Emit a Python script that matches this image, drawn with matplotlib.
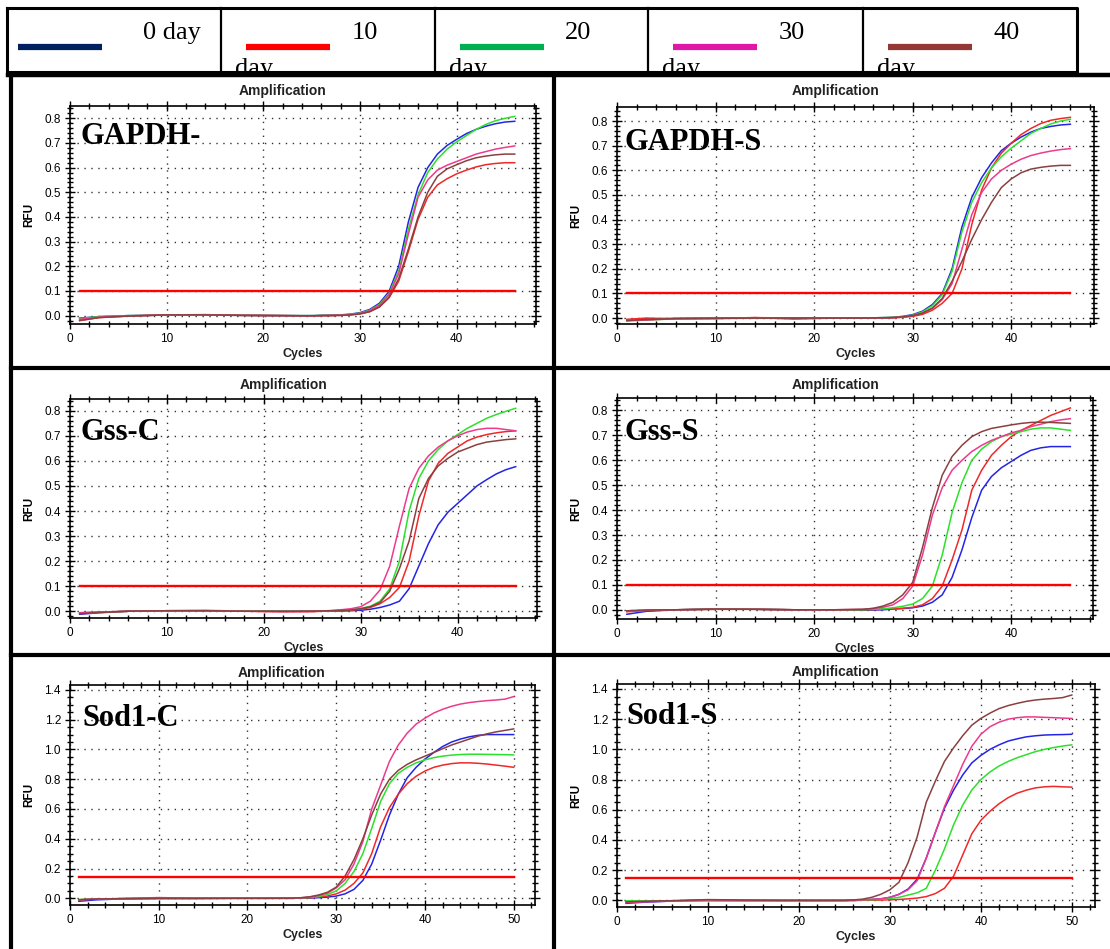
import numpy as np
import matplotlib.pyplot as plt
from matplotlib.ticker import MultipleLocator, FormatStrFormatter

W, H = 1110, 949

# cycle numbers the curves were read at
cycles46 = [1, 3, 6, 10, 14, 18, 22, 25, 26, 27, 28, 29, 30, 31, 32, 33, 34, 35, 36,
            37, 38, 39, 40, 41, 42, 43, 44, 45, 46]
cycles50 = [1, 3, 6, 10, 14, 18, 22, 25, 26, 27, 28, 29, 30, 31, 32, 33, 34, 35, 36,
            37, 38, 39, 40, 41, 42, 43, 44, 45, 46, 47, 48, 49, 50]

legend_labels = ["0 day", "10 day", "20 day", "30 day", "40 day"]
legend_colors = ["#002060", "#FF0000", "#00B050", "#E018A8", "#953735"]
curve_colors = ["#2424E8", "#F02828", "#2CE02C", "#EE3A8C", "#8A4040"]

# GAPDH- (control)
gapdh_c_0 = [-0.01, -0.004, 0.0, 0.002, 0.002, 0.001, 0.0, 0.0, 0.001, 0.002, 0.003, 0.006, 0.012,
             0.025, 0.05, 0.098, 0.2, 0.38, 0.52, 0.6, 0.655, 0.69, 0.715, 0.738, 0.755, 0.768, 0.778,
             0.785, 0.788]
gapdh_c_10 = [-0.02, -0.008, -0.002, 0.003, 0.004, 0.001, 0.0, -0.001, 0.0, 0.0, 0.001, 0.003, 0.007,
              0.016, 0.035, 0.072, 0.14, 0.26, 0.39, 0.48, 0.53, 0.555, 0.575, 0.59, 0.603, 0.612,
              0.617, 0.62, 0.62]
gapdh_c_20 = [-0.012, -0.004, 0.0, 0.002, 0.002, 0.001, 0.0, 0.0, 0.001, 0.001, 0.002, 0.005, 0.01,
              0.022, 0.045, 0.09, 0.18, 0.35, 0.49, 0.58, 0.635, 0.675, 0.705, 0.73, 0.755, 0.775,
              0.79, 0.8, 0.808]
gapdh_c_30 = [-0.015, -0.006, -0.001, 0.003, 0.003, 0.001, 0.0, -0.001, 0.0, 0.001, 0.002, 0.004,
              0.009, 0.02, 0.042, 0.085, 0.17, 0.33, 0.48, 0.55, 0.59, 0.61, 0.625, 0.64, 0.655,
              0.665, 0.675, 0.682, 0.688]
gapdh_c_40 = [-0.02, -0.008, -0.002, 0.003, 0.003, 0.001, 0.0, -0.001, 0.0, 0.0, 0.001, 0.003, 0.007,
              0.016, 0.035, 0.075, 0.15, 0.27, 0.40, 0.50, 0.565, 0.595, 0.612, 0.628, 0.64, 0.647,
              0.652, 0.655, 0.655]

# GAPDH-S
gapdh_s_0 = [-0.01, -0.004, -0.001, 0.0, 0.0, 0.0, 0.0, 0.0, 0.001, 0.002, 0.003, 0.007, 0.014,
             0.028, 0.055, 0.1, 0.2, 0.37, 0.49, 0.57, 0.63, 0.68, 0.71, 0.735, 0.755, 0.77, 0.778,
             0.784, 0.787]
gapdh_s_10 = [-0.005, 0.0, -0.003, -0.002, 0.002, -0.004, 0.0, 0.0, 0.0, 0.0, 0.001, 0.003, 0.007,
              0.015, 0.032, 0.06, 0.1, 0.2, 0.38, 0.52, 0.61, 0.67, 0.71, 0.745, 0.77, 0.79, 0.803,
              0.81, 0.815]
gapdh_s_20 = [-0.012, -0.008, -0.003, -0.002, -0.001, -0.001, 0.0, 0.0, 0.001, 0.002, 0.003, 0.006,
              0.012, 0.025, 0.05, 0.095, 0.19, 0.35, 0.47, 0.55, 0.61, 0.655, 0.69, 0.72, 0.75, 0.77,
              0.788, 0.8, 0.807]
gapdh_s_30 = [-0.008, -0.008, -0.002, -0.001, 0.002, 0.0, 0.0, 0.0, 0.001, 0.001, 0.002, 0.005, 0.01,
              0.02, 0.04, 0.075, 0.14, 0.28, 0.42, 0.51, 0.565, 0.6, 0.625, 0.645, 0.66, 0.67,
              0.678, 0.684, 0.688]
gapdh_s_40 = [-0.01, -0.006, -0.002, -0.001, 0.0, 0.0, 0.0, 0.0, 0.001, 0.001, 0.002, 0.005, 0.01,
              0.02, 0.04, 0.08, 0.15, 0.23, 0.32, 0.40, 0.47, 0.53, 0.565, 0.59, 0.605, 0.612,
              0.617, 0.62, 0.62]

# Gss-C
gss_c_0 = [-0.012, -0.006, 0.0, 0.002, 0.003, 0.001, 0.0, 0.0, 0.0, 0.0, 0.001, 0.002, 0.004, 0.008,
           0.015, 0.025, 0.04, 0.09, 0.18, 0.27, 0.345, 0.395, 0.43, 0.465, 0.5, 0.525, 0.548,
           0.565, 0.577]
gss_c_10 = [-0.006, -0.004, 0.0, 0.002, 0.002, 0.0, -0.002, -0.002, 0.0, 0.001, 0.002, 0.004, 0.008,
            0.015, 0.03, 0.055, 0.095, 0.2, 0.38, 0.52, 0.59, 0.63, 0.655, 0.68, 0.695, 0.705,
            0.712, 0.717, 0.72]
gss_c_20 = [-0.008, -0.004, 0.0, 0.002, 0.002, 0.001, 0.0, 0.0, 0.001, 0.002, 0.003, 0.006, 0.011,
            0.02, 0.04, 0.09, 0.2, 0.4, 0.53, 0.6, 0.645, 0.68, 0.705, 0.73, 0.75, 0.77, 0.785,
            0.798, 0.81]
gss_c_30 = [-0.006, -0.003, 0.0, 0.002, 0.002, 0.0, -0.002, 0.0, 0.001, 0.003, 0.006, 0.01, 0.018,
            0.04, 0.085, 0.18, 0.34, 0.49, 0.57, 0.62, 0.655, 0.68, 0.70, 0.715, 0.725, 0.73,
            0.73, 0.725, 0.72]
gss_c_40 = [-0.01, -0.005, 0.0, 0.002, 0.002, 0.0, 0.0, 0.0, 0.001, 0.002, 0.003, 0.005, 0.01,
            0.018, 0.035, 0.08, 0.17, 0.28, 0.45, 0.53, 0.58, 0.61, 0.635, 0.65, 0.665, 0.675,
            0.68, 0.685, 0.688]

# Gss-S
gss_s_0 = [-0.018, -0.006, 0.0, 0.003, 0.002, 0.0, 0.0, -0.002, -0.001, 0.0, 0.003, 0.005, 0.008,
           0.015, 0.03, 0.06, 0.13, 0.24, 0.37, 0.48, 0.535, 0.57, 0.595, 0.62, 0.64, 0.65, 0.655,
           0.655, 0.655]
gss_s_10 = [-0.008, -0.003, 0.0, 0.002, 0.002, 0.0, 0.0, 0.0, 0.001, 0.002, 0.004, 0.006, 0.01,
            0.02, 0.045, 0.095, 0.2, 0.32, 0.48, 0.56, 0.62, 0.66, 0.695, 0.72, 0.74, 0.76, 0.78,
            0.795, 0.81]
gss_s_20 = [-0.004, -0.002, 0.0, 0.002, 0.002, 0.0, 0.0, 0.0, 0.002, 0.004, 0.008, 0.014, 0.023,
            0.045, 0.095, 0.22, 0.39, 0.51, 0.6, 0.645, 0.675, 0.695, 0.705, 0.715, 0.725, 0.73,
            0.73, 0.725, 0.72]
gss_s_30 = [-0.005, -0.002, 0.0, 0.002, 0.002, 0.0, 0.0, 0.002, 0.005, 0.01, 0.02, 0.045, 0.095,
            0.22, 0.38, 0.49, 0.56, 0.6, 0.635, 0.66, 0.68, 0.695, 0.71, 0.72, 0.735, 0.745, 0.755,
            0.762, 0.767]
gss_s_40 = [-0.004, -0.001, 0.0, 0.003, 0.002, 0.0, 0.0, 0.002, 0.006, 0.015, 0.03, 0.06, 0.11,
            0.25, 0.41, 0.54, 0.615, 0.66, 0.695, 0.715, 0.728, 0.735, 0.742, 0.748, 0.752, 0.753,
            0.752, 0.75, 0.748]

# Sod1-C
sod_c_0 = [-0.02, -0.01, -0.004, -0.002, -0.002, 0.0, 0.0, 0.0, 0.001, 0.002, 0.004, 0.008, 0.015,
           0.03, 0.06, 0.12, 0.23, 0.39, 0.56, 0.70, 0.81, 0.88, 0.935, 0.98, 1.02, 1.05, 1.07,
           1.085, 1.095, 1.1, 1.1, 1.1, 1.1]
sod_c_10 = [-0.01, -0.005, -0.002, 0.0, 0.0, 0.0, 0.0, 0.0, 0.002, 0.004, 0.008, 0.015, 0.03,
            0.055, 0.1, 0.17, 0.3, 0.48, 0.61, 0.7, 0.77, 0.82, 0.855, 0.88, 0.895, 0.905, 0.91,
            0.91, 0.907, 0.902, 0.895, 0.888, 0.88]
sod_c_20 = [-0.008, -0.004, -0.002, 0.0, 0.0, 0.0, 0.0, 0.0, 0.003, 0.006, 0.012, 0.025, 0.05, 0.1,
            0.18, 0.3, 0.47, 0.65, 0.77, 0.84, 0.88, 0.91, 0.93, 0.945, 0.955, 0.962, 0.966, 0.968,
            0.968, 0.967, 0.966, 0.965, 0.963]
sod_c_30 = [-0.01, -0.005, -0.002, 0.005, 0.0, 0.0, 0.0, 0.0, 0.003, 0.008, 0.018, 0.035, 0.07,
            0.125, 0.23, 0.38, 0.6, 0.76, 0.92, 1.03, 1.11, 1.17, 1.21, 1.245, 1.27, 1.29, 1.305,
            1.315, 1.322, 1.328, 1.332, 1.338, 1.355]
sod_c_40 = [-0.01, -0.005, -0.002, 0.0, 0.0, 0.0, 0.0, 0.001, 0.004, 0.01, 0.022, 0.04, 0.075, 0.15,
            0.26, 0.4, 0.56, 0.7, 0.8, 0.86, 0.9, 0.93, 0.955, 0.98, 1.005, 1.03, 1.05, 1.07, 1.09,
            1.105, 1.118, 1.128, 1.138]

# Sod1-S
sod_s_0 = [-0.02, -0.012, -0.005, 0.0, -0.001, 0.0, 0.0, 0.0, 0.002, 0.003, 0.006, 0.01, 0.02,
           0.04, 0.075, 0.14, 0.28, 0.45, 0.61, 0.73, 0.83, 0.91, 0.96, 1.0, 1.03, 1.055, 1.07,
           1.083, 1.09, 1.095, 1.097, 1.098, 1.1]
sod_s_10 = [-0.01, -0.006, -0.003, 0.002, 0.0, -0.002, -0.002, -0.002, -0.001, 0.001, 0.001, 0.002,
            0.004, 0.006, 0.01, 0.015, 0.025, 0.045, 0.08, 0.16, 0.3, 0.44, 0.53, 0.59, 0.64, 0.68,
            0.71, 0.73, 0.745, 0.752, 0.755, 0.752, 0.75]
sod_s_20 = [-0.003, -0.003, -0.004, -0.004, -0.005, -0.004, -0.004, -0.003, -0.002, 0.002, 0.004,
            0.007, 0.012, 0.02, 0.035, 0.05, 0.08, 0.2, 0.34, 0.5, 0.63, 0.73, 0.8, 0.85, 0.89, 0.92,
            0.945, 0.965, 0.985, 1.0, 1.012, 1.022, 1.03]
sod_s_30 = [-0.015, -0.01, -0.004, 0.003, 0.0, 0.0, 0.0, 0.0, 0.001, 0.003, 0.006, 0.01, 0.02, 0.04,
            0.07, 0.13, 0.28, 0.45, 0.62, 0.76, 0.9, 1.02, 1.1, 1.15, 1.18, 1.2, 1.21, 1.215, 1.215,
            1.212, 1.21, 1.207, 1.205]
sod_s_40 = [-0.01, -0.006, -0.002, 0.005, 0.002, 0.0, 0.0, 0.0, 0.003, 0.008, 0.02, 0.04, 0.07, 0.12,
            0.25, 0.42, 0.65, 0.79, 0.92, 1.01, 1.09, 1.16, 1.205, 1.24, 1.27, 1.29, 1.305, 1.318,
            1.327, 1.333, 1.337, 1.343, 1.36]

panel_names = ["GAPDH-", "GAPDH-S", "Gss-C", "Gss-S", "Sod1-C", "Sod1-S"]
thresholds = [0.1, 0.103, 0.1, 0.1, 0.145, 0.145]

fig = plt.figure(figsize=(W / 100, H / 100), dpi=100)
fig.patch.set_facecolor("white")


def px_axes(l, r, t, b):
    return fig.add_axes([l / W, 1 - b / H, (r - l) / W, (b - t) / H])


# pixel layout: (left, right, top, bottom) of each plot box, x max, y range
panels = [
    ((70, 536, 106, 324), cycles46, [gapdh_c_0, gapdh_c_10, gapdh_c_20, gapdh_c_30, gapdh_c_40],
     48.2, (-0.034, 0.85), (283, 91), (80, 137)),
    ((617, 1094, 107, 324), cycles46, [gapdh_s_0, gapdh_s_10, gapdh_s_20, gapdh_s_30, gapdh_s_40],
     48.4, (-0.024, 0.857), (836, 91), (625, 142)),
    ((70, 537, 399, 618), cycles46, [gss_c_0, gss_c_10, gss_c_20, gss_c_30, gss_c_40],
     48.2, (-0.027, 0.847), (284, 385), (80, 433)),
    ((617, 1093, 398, 619), cycles46, [gss_s_0, gss_s_10, gss_s_20, gss_s_30, gss_s_40],
     48.3, (-0.037, 0.85), (836, 385), (625, 432)),
    ((70, 535, 685, 905), cycles50, [sod_c_0, sod_c_10, sod_c_20, sod_c_30, sod_c_40],
     52.4, (-0.045, 1.433), (282, 673), (82, 718)),
    ((617, 1095, 684, 907), cycles50, [sod_s_0, sod_s_10, sod_s_20, sod_s_30, sod_s_40],
     52.55, (-0.044, 1.433), (836, 672), (626, 716)),
]

sans = "Liberation Sans"
serif = "Liberation Serif"

for i, (rect, cyc, series, xmax, ylim, title_xy, name_xy) in enumerate(panels):
    ax = px_axes(*rect)
    for vals, col in zip(series, curve_colors):
        ax.plot(cyc, vals, color=col, lw=1.1, zorder=3)
    ax.plot([cyc[0], cyc[-1]], [thresholds[i], thresholds[i]], color="#FF0000", lw=1.7, zorder=4)
    ax.set_xlim(0, xmax)
    ax.set_ylim(*ylim)
    ax.xaxis.set_major_locator(MultipleLocator(10))
    ax.xaxis.set_minor_locator(MultipleLocator(2))
    if i < 4:
        ax.yaxis.set_major_locator(MultipleLocator(0.1))
        ax.yaxis.set_minor_locator(MultipleLocator(0.02))
    else:
        ax.yaxis.set_major_locator(MultipleLocator(0.2))
        ax.yaxis.set_minor_locator(MultipleLocator(0.05))
    ax.yaxis.set_major_formatter(FormatStrFormatter("%.1f"))
    ax.grid(which="major", color="#333333", ls=(0, (1, 4)), lw=1.0)
    ax.tick_params(which="both", direction="inout", top=True, right=True, width=1.0,
                   labelsize=8.5, pad=3)
    ax.tick_params(which="major", length=7)
    ax.tick_params(which="minor", length=4)
    for lab in ax.get_xticklabels() + ax.get_yticklabels():
        lab.set_fontfamily(sans)
    for sp in ax.spines.values():
        sp.set_linewidth(1.2)

    l, r, t, b = rect
    fig.text(title_xy[0] / W, 1 - title_xy[1] / H, "Amplification", ha="center", va="center",
             fontsize=10, fontweight="bold", family=sans, color="#222222")
    fig.text((l + r) / 2 / W, 1 - (b + 30) / H, "Cycles", ha="center", va="center",
             fontsize=9, fontweight="bold", family=sans, color="#222222")
    fig.text((l - 41) / W, 1 - (t + b) / 2 / H, "RFU", ha="center", va="center", rotation=90,
             fontsize=8.5, fontweight="bold", family=sans)
    fig.text(name_xy[0] / W, 1 - name_xy[1] / H, panel_names[i], ha="left", va="center",
             fontsize=22, fontweight="bold", family=serif, zorder=5)

# legend table at the top
ax_leg = px_axes(7, 1077, 8, 72)
ax_leg.set_xlim(7, 1077)
ax_leg.set_ylim(72, 8)
ax_leg.axis("off")
cell_left = [7, 221, 434.5, 648, 863]
for k, (lab, col) in enumerate(zip(legend_labels, legend_colors)):
    x0 = cell_left[k]
    if k == 0:
        ax_leg.text(201, 39, lab, ha="right", va="baseline", fontsize=19, family=serif,
                    clip_on=True)
        ax_leg.plot([18, 102], [47, 47], color=col, lw=4.5, solid_capstyle="butt")
    else:
        num, word = lab.split(" ")
        ax_leg.text(x0 + 157, 39, num, ha="right", va="baseline", fontsize=19, family=serif,
                    clip_on=True)
        ax_leg.text(x0 + 14, 75, word, ha="left", va="baseline", fontsize=19, family=serif,
                    clip_on=True)
        ax_leg.plot([x0 + 25, x0 + 109], [47, 47], color=col, lw=4.5, solid_capstyle="butt")

# frame lines around everything
ov = fig.add_axes([0, 0, 1, 1], zorder=10)
ov.set_xlim(0, W)
ov.set_ylim(H, 0)
ov.axis("off")
ov.plot([7, 1077, 1077, 7, 7], [8, 8, 72, 72, 8], color="black", lw=2.2)
for xd in cell_left[1:]:
    ov.plot([xd, xd], [8, 72], color="black", lw=1.6)
ov.plot([8, W], [74.5, 74.5], color="black", lw=3.2)
ov.plot([11, 11], [74, H], color="black", lw=3.0)
ov.plot([554, 554], [74, H], color="black", lw=3.0)
ov.plot([11, W], [368, 368], color="black", lw=3.0)
ov.plot([11, W], [655, 655], color="black", lw=3.0)

fig.savefig("out.png", dpi=100, facecolor="white")
